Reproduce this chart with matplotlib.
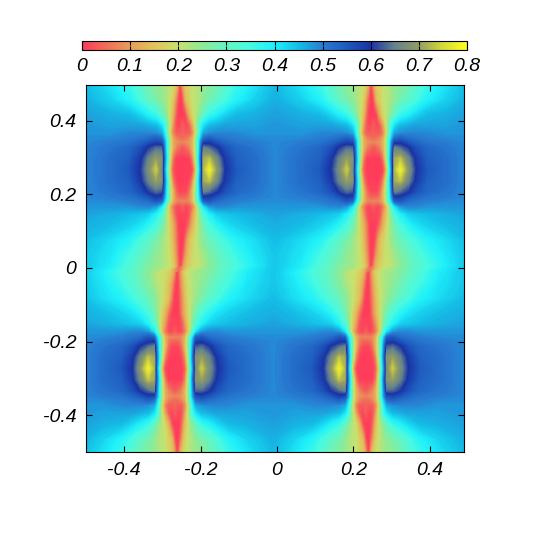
import numpy as np
import matplotlib
matplotlib.use("Agg")
import matplotlib.pyplot as plt
from matplotlib.colors import LinearSegmentedColormap, Normalize
from matplotlib.cm import ScalarMappable

plt.rcParams['font.family'] = ['Liberation Sans', 'DejaVu Sans']
plt.rcParams['axes.unicode_minus'] = False

# Grid offsets around a crescent/vein centre
col_offsets = [-.255, -.19, -.14, -.11, -.09, -.07, -.055, -.048, -.042, -.034, -.026, -.018,
               -.012, -.008, -.004, 0, .004, .008, .012,
               .018, .026, .034, .042, .048, .055, .07, .09, .11, .14, .19, .24]
row_offsets = [.233, .19, .15, .12, .10, .085, .075, .06, .03, 0, -.03, -.06, -.075, -.085, -.10, -.12,
               -.15, -.19, -.23, -.262]
centres_x_top = [-.247, .253]
centres_x_bottom = [-.267, .233]
centre_y_top = .267
centre_y_bottom = -.273

# Values (hundredths) read from the upper tile; the lower tile is its half-turn
tile_hundredths = [
 [45,41,36,31,27,25,24,23,22,21,19,15,  9,0,3,9,13,16,17,  18,20,21,22,23,24,26,27,31,36,41,45],
 [46,43,39,34,30,27,25,23,22,20,16, 8,  2,0,0,1,7,12,15,   17,20,21,22,23,25,28,31,34,39,43,46],
 [47,46,45,42,39,36,30,27,24,19,13, 4,  0,0,0,0,0,1,6,     12,18,21,24,27,30,36,39,42,45,46,47],
 [48,47,47,47,46,45,41,36,30,20, 9, 2,  1,1,2,3,2,1,1,      3,10,20,30,36,41,45,46,47,47,47,48],
 [48,48,49,49,49,48,46,40,30,17, 7, 3,  3,3,3,4,3,3,3,      3, 7,17,30,40,46,48,49,49,49,48,48],
 [49,49,50,51,52,54,52,44,35,22,11, 7,  6,5,5,5,5,5,6,      7,11,22,35,44,52,54,52,51,50,49,49],
 [49,50,51,53,55,57,56,48,38,22,12, 9,  8,8,7,7,7,8,8,      9,12,22,38,48,57,58,55,53,51,50,49],
 [49,51,53,56,60,63,63,50,38,22,12, 7,  5,4,3,3,3,4,5,      7,12,22,38,50,65,63,60,56,53,51,49],
 [49,52,54,59,65,70,68,52,40,20, 6, 0,  0,0,0,0,0,0,0,      0, 6,20,40,52,71,73,66,59,54,52,49],
 [49,52,55,60,67,74,67,49,36,15, 3, 0,  0,0,0,0,0,0,0,      0, 1,12,36,50,72,78,69,60,55,52,49],
 [49,52,54,59,65,70,68,52,40,21, 7, 1,  0,0,0,0,0,0,0,      1, 7,21,40,52,71,73,66,59,54,52,49],
 [49,51,53,56,60,63,62,50,38,24,13, 5,  2,1,1,1,1,1,2,      5,13,24,38,50,65,63,60,56,53,51,49],
 [49,50,51,53,55,58,57,47,37,24,13, 7,  5,4,4,4,4,4,5,      7,13,24,37,47,58,58,55,53,51,50,49],
 [49,49,50,51,52,55,53,43,35,23,12, 8,  7,7,7,7,7,7,7,      8,12,23,35,43,53,55,52,51,50,49,49],
 [48,48,48,49,49,47,40,33,24,13, 6, 2,  1,1,2,3,2,1,1,      2, 6,13,24,33,40,47,49,49,48,48,48],
 [47,46,45,44,43,39,33,28,22,15, 8, 2,  1,1,1,1,1,1,1,      2, 9,15,22,28,33,39,43,44,45,46,47],
 [46,45,43,41,38,34,28,25,22,17,12, 6,  1,0,0,0,0,0,2,      6,12,17,22,25,28,34,38,41,43,45,46],
 [45,42,39,34,31,27,24,22,21,18,13, 7,  2,0,0,0,1,5,9,     14,17,20,22,24,26,29,32,35,39,42,45],
 [44,41,35,31,28,25,23,22,21,19,15, 9,  3,0,0,1,5,9,12,    15,18,20,21,22,23,26,29,32,36,41,44],
 [44,40,33,29,26,24,23,22,21,20,17,11,  5,1,1,6,10,13,15,  17,19,20,20,21,22,25,28,31,34,40,44],
]

# Colour anchors
cmap_positions = [0, .0625, .125, .1875, .25, .3125, .375, .4375, .5, .5625, .625, .6875, .75, .8125, .875, .9375, 1]
cmap_colors = [(255,60,90), (240,110,90), (232,160,90), (225,195,90), (200,225,110), (140,235,150),
               (100,245,195), (70,250,225), (30,240,250), (20,190,230), (40,125,210), (30,90,190),
               (25,50,165), (100,130,140), (145,155,100), (210,215,60), (255,255,30)]
cb_ticks = [0, .1, .2, .3, .4, .5, .6, .7, .8]
cb_labels = ['0', '0.1', '0.2', '0.3', '0.4', '0.5', '0.6', '0.7', '0.8']
xy_ticks = [-.4, -.2, 0, .2, .4]
xy_labels = ['-0.4', '-0.2', '0', '0.2', '0.4']

cmap = LinearSegmentedColormap.from_list(
    'bar', [(p, tuple(v / 255 for v in c)) for p, c in zip(cmap_positions, cmap_colors)], N=256)
norm = Normalize(0, .8)

tile = np.array(tile_hundredths) / 100
cols = np.array(col_offsets)
rows = np.array(row_offsets)
Z = np.vstack([np.hstack([tile, tile]), np.hstack([tile[::-1, ::-1], tile[::-1, ::-1]])])
x_top = np.concatenate([c + cols for c in centres_x_top])
x_bot = np.concatenate([c - cols[::-1] for c in centres_x_bottom])
y_all = np.concatenate([centre_y_top + rows, centre_y_bottom - rows[::-1]])
n = len(rows)
X = np.vstack([np.tile(x_top, (n, 1)), np.tile(x_bot, (n, 1))])
Y = np.tile(y_all[:, None], (1, X.shape[1]))

W = H = 550
fig = plt.figure(figsize=(5.5, 5.5), dpi=100)
ax = fig.add_axes([86 / W, 1 - 452 / H, 378 / W, 367 / H])
ax.set_facecolor(cmap(norm(.47)))
ax.contourf(X, Y, Z, levels=np.linspace(0, .8, 321), cmap=cmap, norm=norm, extend='both')
ax.set_xlim(-.5, .49)
ax.set_ylim(-.5, .497)
ax.set_xticks(xy_ticks, xy_labels)
ax.set_yticks(xy_ticks, xy_labels)
ax.tick_params(direction='in', length=4, width=.8, top=True, right=True, labelsize=14, pad=7)
for t in ax.get_xticklabels() + ax.get_yticklabels():
    t.set_style('italic')

cax = fig.add_axes([82 / W, 1 - 50 / H, 385 / W, 9 / H])
cb = fig.colorbar(ScalarMappable(norm=norm, cmap=cmap), cax=cax, orientation='horizontal')
cb.set_ticks(cb_ticks, labels=cb_labels)
cb.ax.tick_params(direction='in', length=3, width=.8, top=True, bottom=True, labelsize=14, pad=6)
for t in cb.ax.get_xticklabels():
    t.set_style('italic')
cb.outline.set_linewidth(.8)

fig.savefig('out.png', dpi=100)
